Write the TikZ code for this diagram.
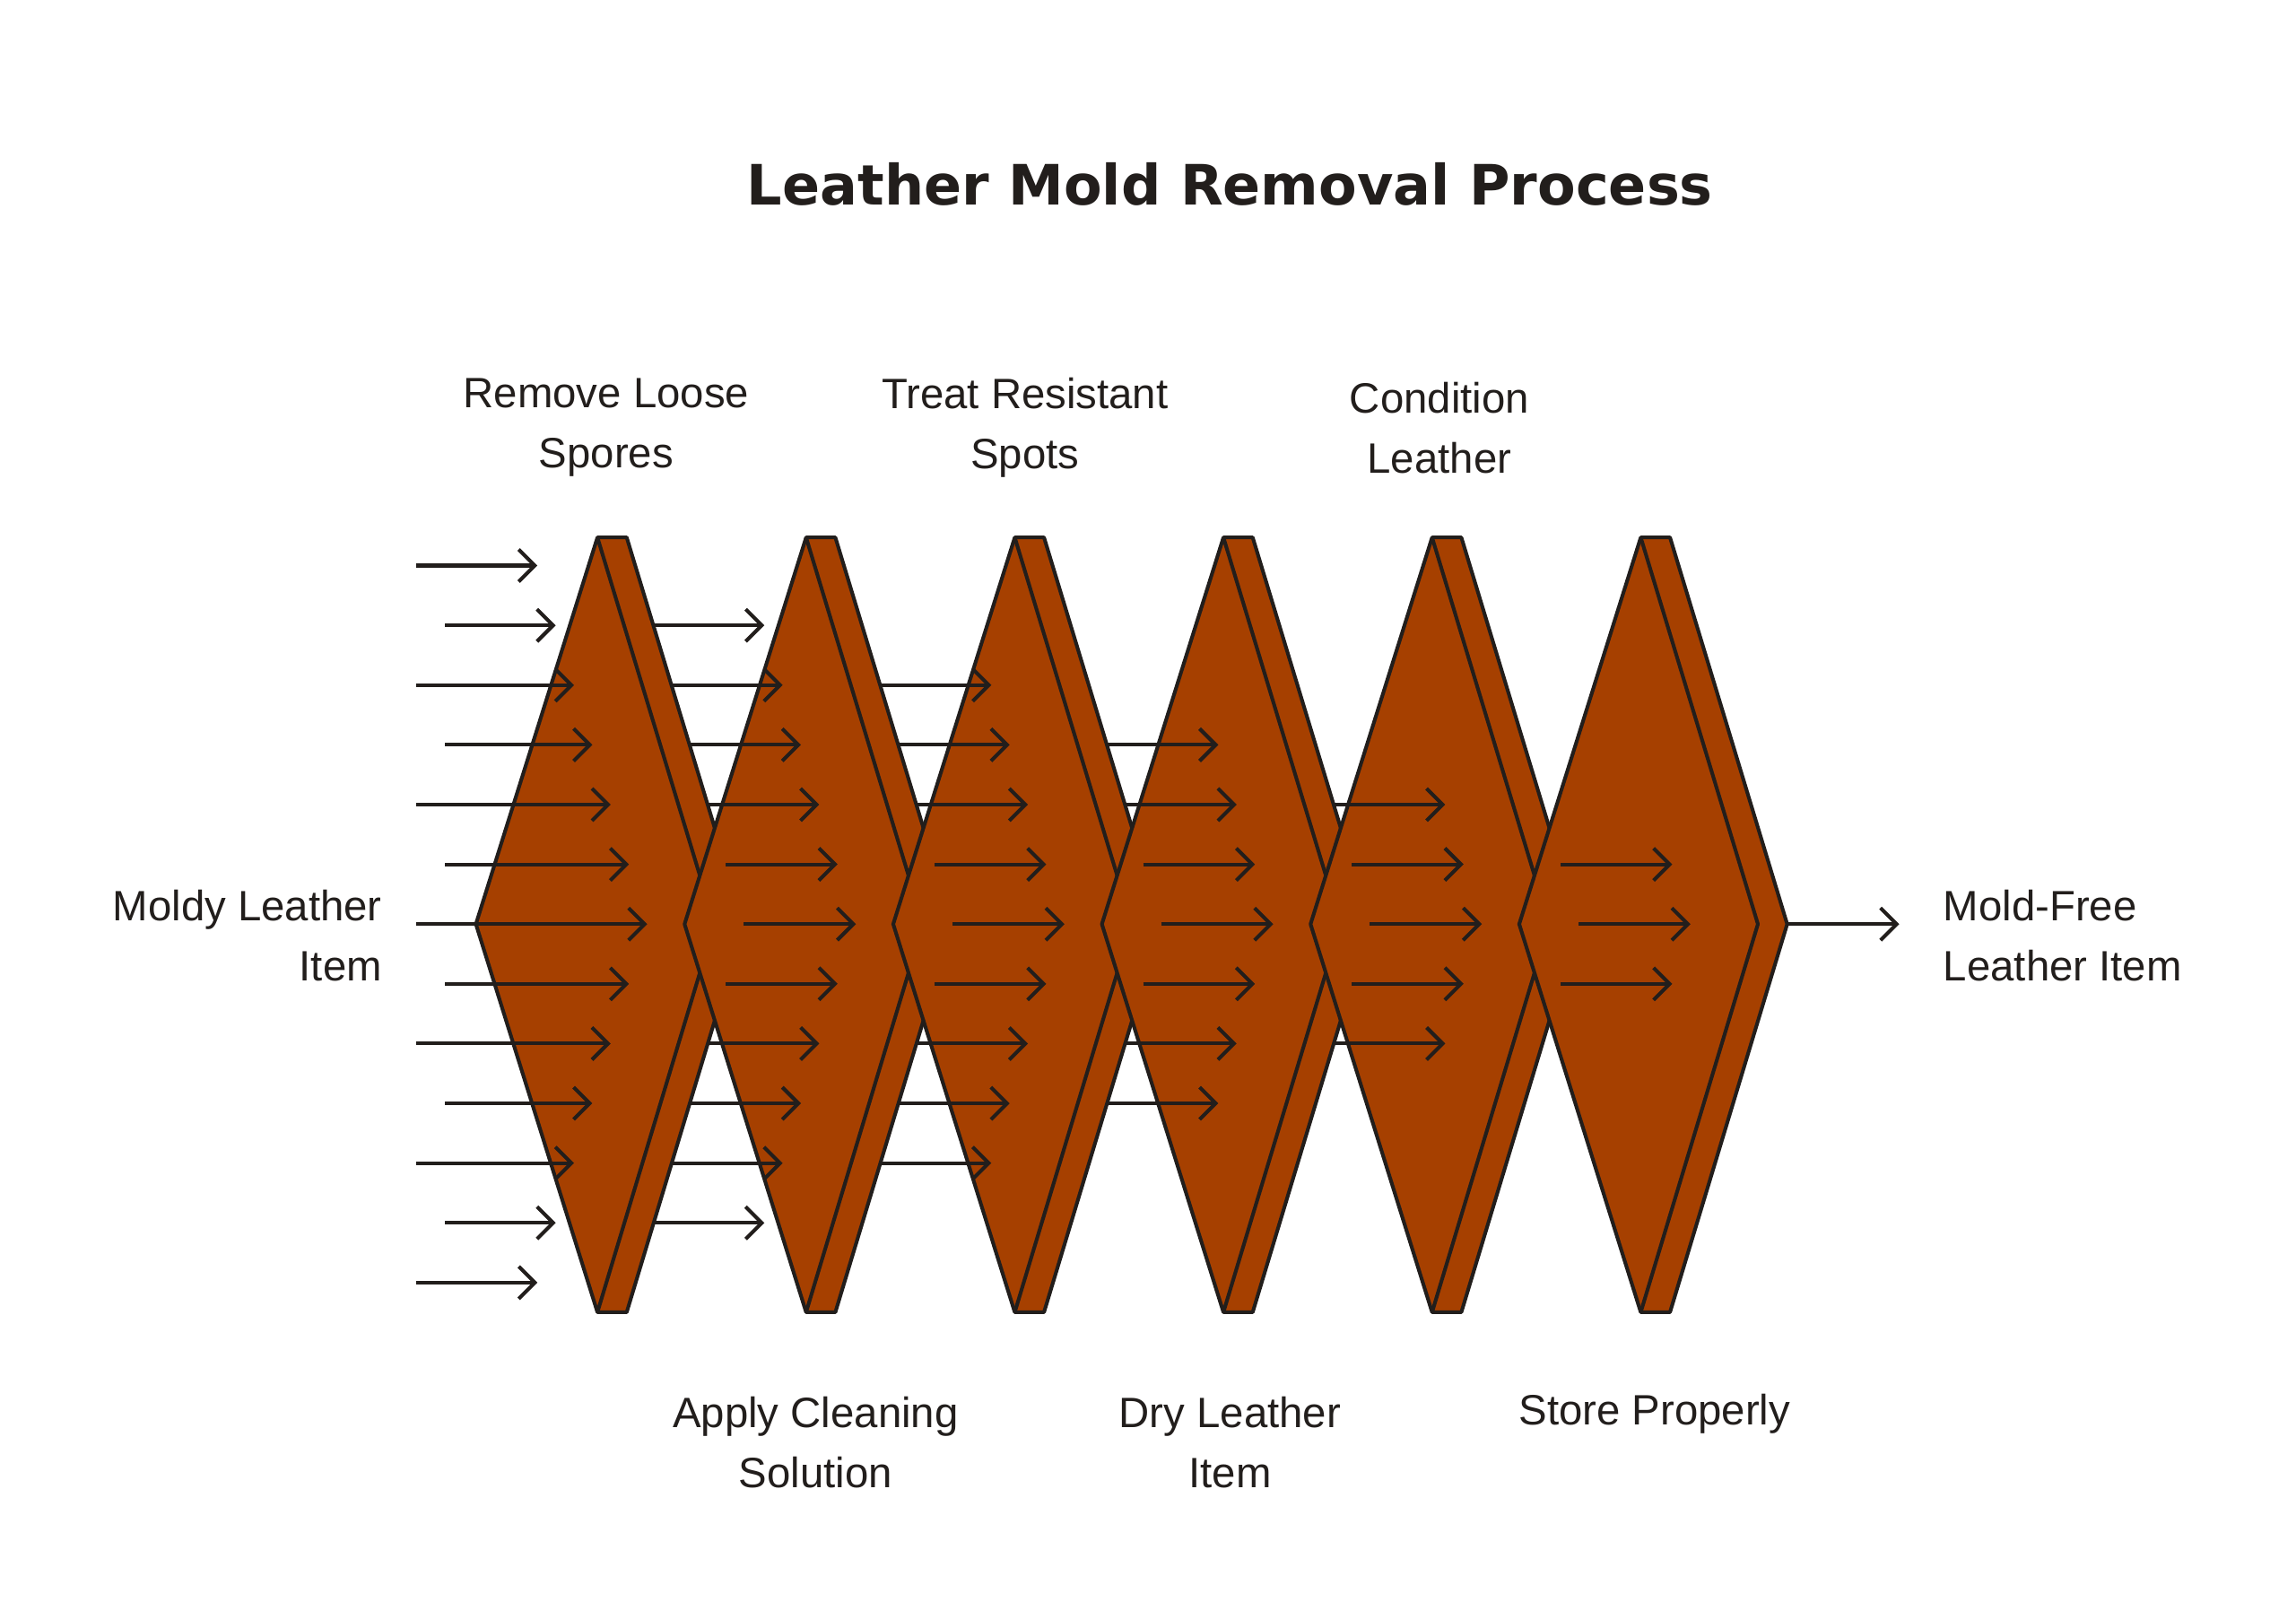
\documentclass[tikz,border=0pt]{standalone}
\usepackage{fontspec}
\setmainfont{Liberation Sans}
\newfontfamily\titlefont{DejaVu Sans}
\usetikzlibrary{arrows.meta}
\definecolor{leather}{RGB}{166,64,0}
\definecolor{ink}{RGB}{34,30,28}
\begin{document}
\begin{tikzpicture}[x=1pt,y=-1pt,
  chev/.style={draw=ink,fill=leather,line width=2.5pt,line join=round},
  arr/.style={draw=ink,line width=2.5pt,-{Straight Barb[length=11pt,width=22pt,line width=2.5pt]}},
  lbl/.style={font=\fontsize{29}{41}\selectfont,text=ink,align=center,inner sep=0pt}]
\useasboundingbox (0,0) rectangle (1568,1100);
\node[font=\titlefont\bfseries\fontsize{38}{44}\selectfont,text=ink] (title) at (840,126) {Leather Mold Removal Process};
\foreach \k in {0,...,5}{
  \begin{scope}[xshift=142.5*\k pt]
  \draw[chev] (325,631) -- (408,367) -- (428,367) -- (508,631) -- (428,896) -- (408,896) -- cycle;
  \draw[chev,fill=none] (408,367) -- (488,631) -- (408,896);
  \end{scope}}
% group 0
\foreach \i in {-6,...,6}{
  \pgfmathsetmacro\s{isodd(\i)?304:284}
  \pgfmathsetmacro\e{442-12.5*abs(\i)}
  \pgfmathsetmacro\y{631+40.8*\i}
  \coordinate (s) at (\s,\y); \coordinate (e) at (\e,\y);
  \draw[arr] (s) -- (e);}
\foreach \g in {1,...,5}{
  \pgfmathtruncatemacro\n{6-\g}
  \foreach \i in {-\n,...,\n}{
    \pgfmathsetmacro\s{508+142.5*(\g-1)-80*abs(\i)*40.8/264}
    \pgfmathsetmacro\e{442+142.5*\g-12.5*abs(\i)}
    \pgfmathsetmacro\y{631+40.8*\i}
    \coordinate (s) at (\s,\y); \coordinate (e) at (\e,\y);
    \draw[arr] (s) -- (e);}}
\coordinate (fs) at (1221,631); \coordinate (fe) at (1297,631);
\draw[arr] (fs) -- (fe);
\node[lbl] (l1) at (414,292) {Remove Loose\\Spores};
\node[lbl] (l3) at (700,292) {Treat Resistant\\Spots};
\node[lbl] (l5) at (983,292) {Condition\\Leather};
\node[lbl] (l2) at (557,985) {Apply Cleaning\\Solution};
\node[lbl] (l4) at (840,985) {Dry Leather\\Item};
\node[lbl,anchor=north] (l6) at (1130,952) {Store Properly};
\node[lbl,align=right,anchor=east] (in) at (261,639) {Moldy Leather\\Item};
\node[lbl,align=left,anchor=west] (out) at (1327,639) {Mold-Free\\Leather Item};
\end{tikzpicture}
\end{document}
